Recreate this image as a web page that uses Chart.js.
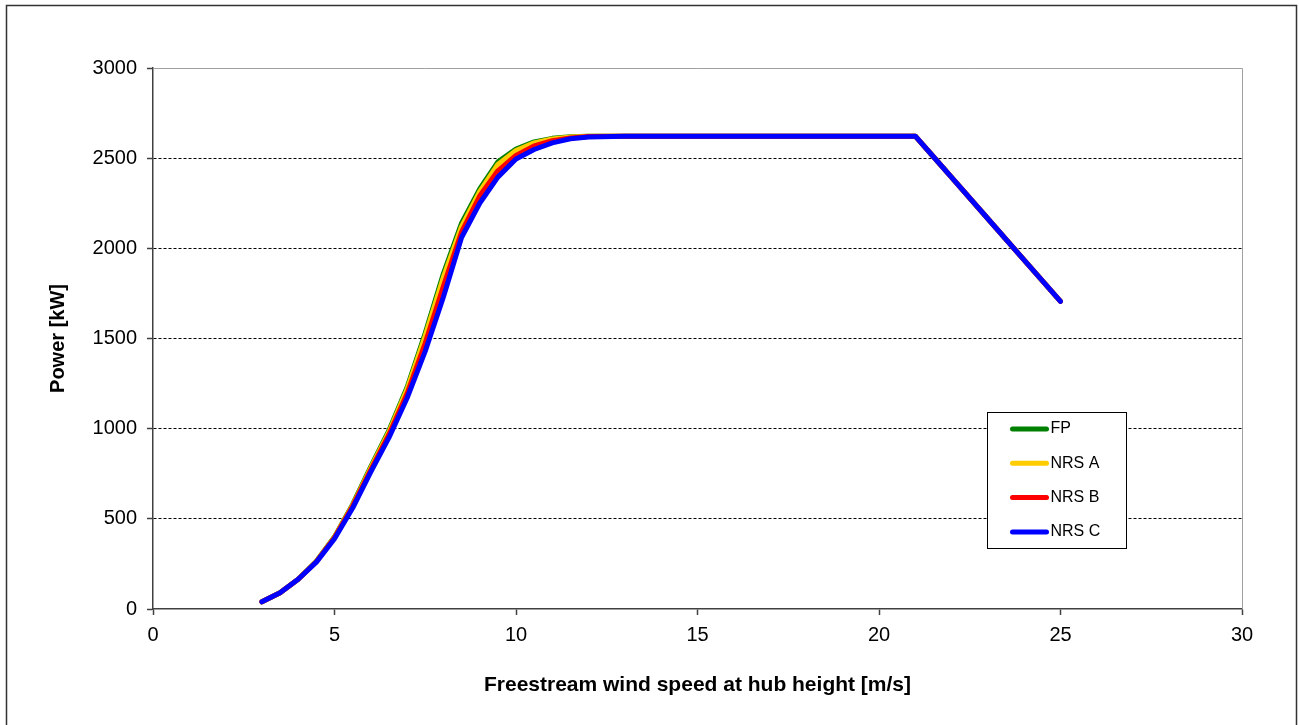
<!DOCTYPE html>
<html><head><meta charset="utf-8">
<script src="https://cdn.jsdelivr.net/npm/chart.js@4"></script>
<style>html,body{margin:0;padding:0;background:#fff;} canvas{display:block;}</style>
</head><body>
<canvas id="c" width="1299" height="725"></canvas>
<script>
// ---- data ----
const speeds    = [3,3.5,4,4.5,5,5.5,6,6.5,7,7.5,8,8.5,9,9.5,10,10.5,11,11.5,12,13,14,15,16,17,18,19,20,21,21.5,22,23,24,25];
const fpPower   = [40,90,165,265,400,580,790,990,1230,1530,1860,2140,2330,2480,2550,2590,2610,2619,2622,2622,2622,2622,2622,2622,2622,2622,2622,2622,2508,2393,2164,1935,1706];
const nrsAPower = [40,90,165,263,398,575,783,982,1218,1515,1840,2120,2315,2465,2542,2585,2607,2617,2622,2622,2622,2622,2622,2622,2622,2622,2622,2622,2508,2393,2164,1935,1706];
const nrsBPower = [40,90,165,262,395,570,772,968,1195,1475,1790,2090,2290,2430,2515,2568,2597,2612,2620,2622,2622,2622,2622,2622,2622,2622,2622,2622,2508,2393,2164,1935,1706];
const nrsCPower = [40,90,165,260,390,560,760,950,1170,1430,1730,2060,2250,2395,2495,2548,2585,2608,2618,2622,2622,2622,2622,2622,2622,2622,2622,2622,2508,2393,2164,1935,1706];
const seriesNames  = ['FP','NRS A','NRS B','NRS C'];
const seriesColors = ['#008000','#FFCC00','#FF0000','#0000FF'];
const xTicks = [0,5,10,15,20,25,30];
const yTicks = [0,500,1000,1500,2000,2500,3000];
const xTitle = 'Freestream wind speed at hub height [m/s]';
const yTitle = 'Power [kW]';

const FONT = "'Liberation Sans', Arial, sans-serif";
const allSeries = [fpPower, nrsAPower, nrsBPower, nrsCPower];

const datasets = allSeries.map((arr, i) => ({
  label: seriesNames[i],
  data: speeds.map((s, j) => ({x: s, y: arr[j]})),
  borderColor: seriesColors[i],
  backgroundColor: seriesColors[i],
  order: 4 - i
}));

const decor = {
  id: 'decor',
  beforeDatasetsDraw(chart) {
    const {ctx, chartArea: a} = chart;
    ctx.save();
    ctx.strokeStyle = '#a0a0a0';
    ctx.lineWidth = 1;
    ctx.beginPath();
    ctx.moveTo(a.left, a.top + 0.5);
    ctx.lineTo(a.right + 0.5, a.top + 0.5);
    ctx.lineTo(a.right + 0.5, a.bottom);
    ctx.stroke();
    ctx.restore();
  },
  afterDraw(chart) {
    const {ctx, chartArea: a} = chart;
    ctx.save();
    // legend box
    const bx = a.left + 834.5, by = a.top + 344.5, bw = 139, bh = 136;
    ctx.fillStyle = '#fff';
    ctx.fillRect(bx, by, bw, bh);
    ctx.strokeStyle = '#000';
    ctx.lineWidth = 1;
    ctx.strokeRect(bx, by, bw, bh);
    ctx.font = '16px ' + FONT;
    ctx.textBaseline = 'middle';
    ctx.textAlign = 'left';
    seriesNames.forEach((n, i) => {
      const y = by + 16.5 + i * 34.3;
      ctx.strokeStyle = seriesColors[i];
      ctx.lineWidth = 5;
      ctx.lineCap = 'round';
      ctx.beginPath();
      ctx.moveTo(bx + 25, y);
      ctx.lineTo(bx + 59, y);
      ctx.stroke();
      ctx.fillStyle = '#000';
      ctx.fillText(n, bx + 63, y);
    });
    // outer frame
    ctx.strokeStyle = '#333';
    ctx.lineWidth = 1.5;
    ctx.strokeRect(6.5, 5.5, 1290, 760);
    ctx.restore();
  }
};

new Chart(document.getElementById('c'), {
  type: 'line',
  data: { datasets },
  plugins: [decor],
  options: {
    responsive: false,
    animation: false,
    devicePixelRatio: 1,
    layout: { padding: { left: 0, top: 68, right: 57, bottom: 0 } },
    plugins: { legend: { display: false }, tooltip: { enabled: false } },
    elements: {
      point: { radius: 0 },
      line: { tension: 0, borderWidth: 5, borderCapStyle: 'round', borderJoinStyle: 'round' }
    },
    scales: {
      x: {
        type: 'linear', min: 0, max: 30,
        afterBuildTicks: s => { s.ticks = xTicks.map(v => ({value: v})); },
        afterFit: s => { s.height = 116; },
        grid: { drawOnChartArea: false, tickLength: 6, tickColor: '#404040', tickWidth: 1.5 },
        border: { color: '#404040', width: 1.5 },
        ticks: { font: { family: FONT, size: 20 }, color: '#000', padding: 8, maxRotation: 0, autoSkip: false,
                 callback: v => String(v) },
        title: { display: true, text: xTitle, color: '#000', font: { family: FONT, size: 21, weight: 'bold' }, padding: { top: 0, bottom: 27 } }
      },
      y: {
        min: 0, max: 3000,
        afterBuildTicks: s => { s.ticks = yTicks.map(v => ({value: v})); },
        afterFit: s => { s.width = 153; },
        grid: {
          color: c => (c.tick && (c.tick.value === 0 || c.tick.value === 3000)) ? 'rgba(0,0,0,0)' : '#000',
          lineWidth: 1, tickLength: 6, tickColor: '#404040', tickWidth: 1.5, tickBorderDash: []
        },
        border: { color: '#404040', width: 1.5, dash: [3, 2] },
        ticks: { font: { family: FONT, size: 20 }, color: '#000', padding: 10, callback: v => String(v) },
        title: { display: true, text: yTitle, color: '#000', font: { family: FONT, size: 20, weight: 'bold' }, padding: { top: 46, bottom: 0 } }
      }
    }
  }
});
</script>
</body></html>
